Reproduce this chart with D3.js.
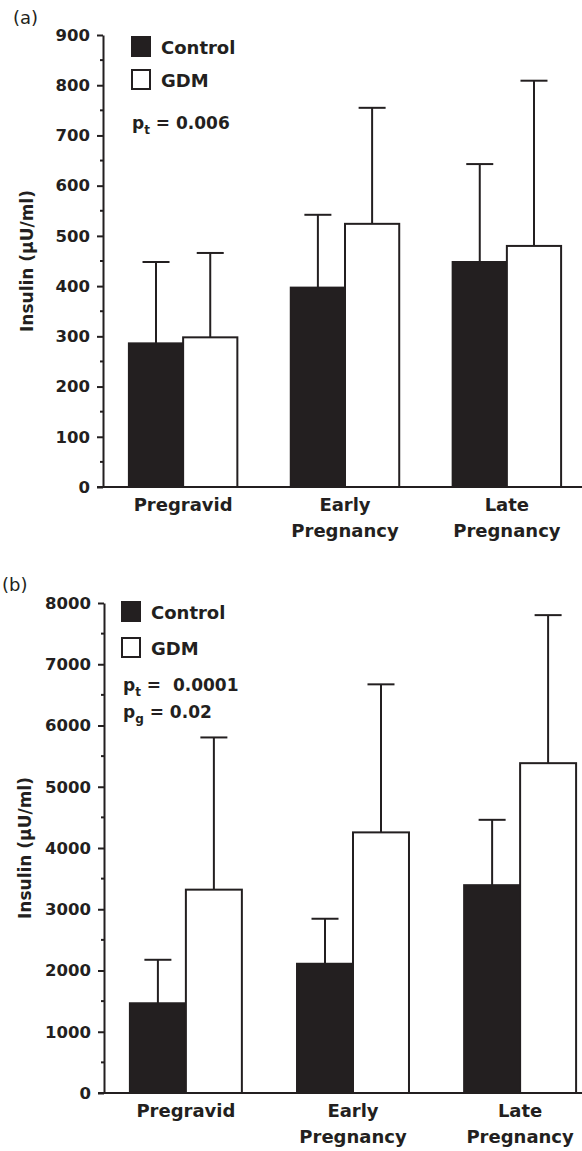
<!DOCTYPE html>
<html>
<head>
<meta charset="utf-8">
<script src="https://cdn.jsdelivr.net/npm/d3@7"></script>
<style>
  body { margin: 0; background: #fff; }
  svg text { font-family: "DejaVu Sans", "Liberation Sans", Arial, sans-serif; fill: #231f20; white-space: pre; }
</style>
</head>
<body>
<svg id="chart" width="582" height="1151"></svg>
<script>
// data
var groups = ["Pregravid", "Early Pregnancy", "Late Pregnancy"];
var series = ["Control", "GDM"];

// panel (a) insulin, μU/ml
var controlA = [286, 397, 448];
var controlAErr = [448, 542, 643];
var gdmA = [298, 524, 480];
var gdmAErr = [466, 755, 809];
var ticksA = [0, 100, 200, 300, 400, 500, 600, 700, 800, 900];

// panel (b)
var controlB = [1465, 2110, 3393];
var controlBErr = [2175, 2845, 4460];
var gdmB = [3320, 4255, 5385];
var gdmBErr = [5805, 6672, 7802];
var ticksB = [0, 1000, 2000, 3000, 4000, 5000, 6000, 7000, 8000];

var ink = "#231f20";
var svg = d3.select("#chart");

function drawPanel(opt) {
    var g = svg.append("g");

    var x0 = d3.scaleBand()
        .domain(groups)
        .range([opt.left, opt.xEnd])
        .paddingInner(0.33)
        .paddingOuter(opt.padOuter);
    var x1 = d3.scaleBand()
        .domain(series)
        .range([0, x0.bandwidth()]);
    var y = d3.scaleLinear()
        .domain([0, opt.max])
        .range([opt.bottom, opt.top]);

    // y axis: major ticks with labels
    var yAxis = g.append("g")
        .attr("transform", "translate(" + opt.left + ",0)")
        .call(d3.axisLeft(y).tickValues(opt.ticks).tickFormat(d3.format("d"))
            .tickSize(6).tickPadding(7).tickSizeOuter(0));
    yAxis.select(".domain").attr("stroke", ink).attr("stroke-width", 2);
    yAxis.selectAll(".tick line").attr("stroke", ink).attr("stroke-width", 2);
    yAxis.selectAll("text")
        .attr("font-size", 16.5).attr("font-weight", "bold").attr("fill", ink);

    // minor ticks
    var minor = d3.range(opt.minor, opt.max, opt.minor * 2);
    g.append("g").selectAll("line").data(minor).enter().append("line")
        .attr("x1", opt.left - 3).attr("x2", opt.left)
        .attr("y1", d => y(d)).attr("y2", d => y(d))
        .attr("stroke", ink).attr("stroke-width", 2);

    // baseline
    g.append("line")
        .attr("x1", opt.left - 6).attr("x2", 582)
        .attr("y1", y(0)).attr("y2", y(0))
        .attr("stroke", ink).attr("stroke-width", 2);

    // y title
    g.append("text")
        .attr("transform", "translate(" + opt.titleX + "," + ((y(0) + y(opt.max)) / 2) + ") rotate(-90)")
        .attr("text-anchor", "middle")
        .attr("font-size", 17).attr("font-weight", "bold")
        .text("Insulin (μU/ml)");

    var rows = groups.map((k, i) => ({k: k, vals: [
        {s: "Control", v: opt.control[i], e: opt.controlErr[i]},
        {s: "GDM", v: opt.gdm[i], e: opt.gdmErr[i]}
    ]}));

    var grp = g.append("g").selectAll("g").data(rows).enter().append("g")
        .attr("transform", d => "translate(" + x0(d.k) + ",0)");

    // error bars (drawn first, bars cover the lower part)
    var eb = grp.selectAll(".err").data(d => d.vals).enter().append("g").attr("class", "err");
    eb.append("line")
        .attr("x1", d => x1(d.s) + x1.bandwidth() / 2)
        .attr("x2", d => x1(d.s) + x1.bandwidth() / 2)
        .attr("y1", d => y(d.v)).attr("y2", d => y(d.e))
        .attr("stroke", ink).attr("stroke-width", 2);
    eb.append("line")
        .attr("x1", d => x1(d.s) + x1.bandwidth() / 2 - 13.5)
        .attr("x2", d => x1(d.s) + x1.bandwidth() / 2 + 13.5)
        .attr("y1", d => y(d.e)).attr("y2", d => y(d.e))
        .attr("stroke", ink).attr("stroke-width", 2);

    grp.selectAll("rect").data(d => d.vals).enter().append("rect")
        .attr("x", d => x1(d.s))
        .attr("y", d => y(d.v))
        .attr("width", x1.bandwidth())
        .attr("height", d => y(0) - y(d.v))
        .attr("fill", d => d.s == "Control" ? ink : "#fff")
        .attr("stroke", ink).attr("stroke-width", 2);

    // x labels
    grp.each(function (d) {
        var words = d.k.split(" ");
        var t = d3.select(this).append("text")
            .attr("text-anchor", "middle")
            .attr("font-size", 18).attr("font-weight", "bold");
        words.forEach((w, i) => t.append("tspan")
            .attr("x", x0.bandwidth() / 2)
            .attr("y", y(0) + 24 + i * 26)
            .text(w));
    });

    // legend
    var lg = g.append("g");
    series.forEach((s, i) => {
        lg.append("rect")
            .attr("x", opt.legX + 1).attr("y", opt.legY + i * opt.legStep + 1)
            .attr("width", 18).attr("height", 19)
            .attr("fill", s == "Control" ? ink : "#fff")
            .attr("stroke", ink).attr("stroke-width", 2);
        lg.append("text")
            .attr("x", opt.legX + 30).attr("y", opt.legY + i * opt.legStep + 18)
            .attr("font-size", 18).attr("font-weight", "bold")
            .text(s);
    });
    opt.pvals.forEach((p, i) => {
        var t = lg.append("text")
            .attr("x", opt.pX).attr("y", opt.pY + i * 27)
            .attr("font-size", 17).attr("font-weight", "bold");
        t.append("tspan").text("p");
        t.append("tspan").attr("font-size", 12).attr("dy", 5).text(p.sub);
        t.append("tspan").attr("dy", -5).text(p.txt);
    });

    // panel tag
    g.append("text")
        .attr("x", opt.tagX).attr("y", opt.tagY)
        .attr("font-size", 18)
        .text(opt.tag);
}

drawPanel({
    left: 103, xEnd: 587, padOuter: 0.16,
    top: 35, bottom: 487, max: 900, ticks: ticksA, minor: 50,
    control: controlA, controlErr: controlAErr, gdm: gdmA, gdmErr: gdmAErr,
    titleX: 33,
    legX: 131, legY: 36, legStep: 33,
    pX: 132, pY: 129,
    pvals: [{sub: "t", txt: " = 0.006"}],
    tag: "(a)", tagX: 13, tagY: 24
});

drawPanel({
    left: 104, xEnd: 602, padOuter: 0.155,
    top: 603, bottom: 1093, max: 8000, ticks: ticksB, minor: 500,
    control: controlB, controlErr: controlBErr, gdm: gdmB, gdmErr: gdmBErr,
    titleX: 31,
    legX: 121, legY: 601, legStep: 36,
    pX: 123, pY: 691,
    pvals: [{sub: "t", txt: " =  0.0001"}, {sub: "g", txt: " = 0.02"}],
    tag: "(b)", tagX: 2, tagY: 591
});
</script>
</body>
</html>
